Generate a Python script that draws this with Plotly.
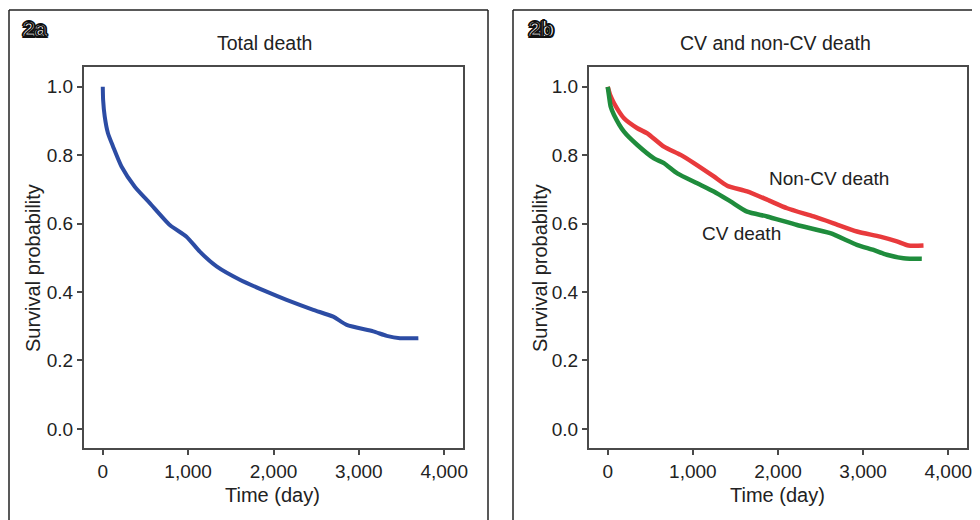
import plotly.graph_objects as go

# ---- data ----
total_t = [0, 4, 23, 60, 121, 219, 375, 551, 785, 981, 1137, 1333, 1606, 1919, 2153,
           2466, 2700, 2857, 3169, 3326, 3482, 3697]
total_s = [1.0, 0.962, 0.913, 0.865, 0.825, 0.767, 0.708, 0.660, 0.596, 0.562, 0.518,
           0.475, 0.436, 0.401, 0.377, 0.348, 0.328, 0.304, 0.285, 0.272, 0.265, 0.265]

noncv_t = [0, 30, 74, 191, 348, 465, 660, 856, 1012, 1246, 1403, 1637, 1872, 2107,
           2419, 2653, 2927, 3200, 3396, 3533, 3709]
noncv_s = [1.0, 0.975, 0.952, 0.908, 0.879, 0.864, 0.825, 0.801, 0.777, 0.738, 0.711,
           0.694, 0.670, 0.645, 0.621, 0.601, 0.577, 0.562, 0.548, 0.536, 0.536]

cv_t = [0, 16, 35, 74, 191, 348, 543, 660, 817, 1051, 1246, 1442, 1637, 1872, 2224,
        2614, 2927, 3122, 3278, 3474, 3689]
cv_s = [1.0, 0.972, 0.942, 0.918, 0.869, 0.830, 0.791, 0.777, 0.747, 0.718, 0.694,
        0.665, 0.635, 0.621, 0.596, 0.572, 0.538, 0.523, 0.509, 0.499, 0.497]

y_ticks = [0.0, 0.2, 0.4, 0.6, 0.8, 1.0]
x_ticks = [0, 1000, 2000, 3000, 4000]

# page has an 8px body margin: figure occupies window pixels 8..980 x 8..520
OFF = 8
W, H = 980 - OFF, 520 - OFF
def px(x):
    return (x - OFF) / W
def py(y):
    return 1 - (y - OFF) / H

FONT = "Liberation Sans, Arial, sans-serif"
BLUE = "#2c4ca4"
RED = "#e83a3c"
GREEN = "#1f8c3c"

fig = go.Figure()
fig.add_trace(go.Scatter(x=total_t, y=total_s, mode="lines",
                         line=dict(color=BLUE, width=4, shape="spline", smoothing=0.6),
                         xaxis="x", yaxis="y", showlegend=False))
fig.add_trace(go.Scatter(x=noncv_t, y=noncv_s, mode="lines",
                         line=dict(color=RED, width=4.5, shape="spline", smoothing=0.6),
                         xaxis="x2", yaxis="y2", showlegend=False))
fig.add_trace(go.Scatter(x=cv_t, y=cv_s, mode="lines",
                         line=dict(color=GREEN, width=4.5, shape="spline", smoothing=0.6),
                         xaxis="x2", yaxis="y2", showlegend=False))

axis_common = dict(showline=True, mirror=True, linecolor="#4a4a4a", linewidth=2,
                   ticks="outside", ticklen=5, tickcolor="#4a4a4a", tickwidth=1.5,
                   showgrid=False, zeroline=False, automargin=False,
                   tickfont=dict(family=FONT, size=19, color="#222"))

xr = [-220, 4220]
yr = [-0.056, 1.058]
ydom = [py(448), py(67)]

fig.update_layout(
    width=W, height=H,
    margin=dict(l=0, r=0, t=0, b=0),
    paper_bgcolor="white", plot_bgcolor="white",
    xaxis=dict(domain=[px(84), px(463)], range=xr, tickvals=x_ticks,
               tickformat=",d", anchor="y", **axis_common),
    yaxis=dict(domain=ydom, range=yr, tickvals=y_ticks, tickformat=".1f",
               anchor="x", **axis_common),
    xaxis2=dict(domain=[px(589), px(967)], range=xr, tickvals=x_ticks,
                tickformat=",d", anchor="y2", **axis_common),
    yaxis2=dict(domain=ydom, range=yr, tickvals=y_ticks, tickformat=".1f",
                anchor="x2", **axis_common),
)

# panel frames
shapes = []
for x0, x1 in [(9, 488), (513, 1000)]:
    shapes.append(dict(type="line", xref="paper", yref="paper",
                       x0=px(x0), x1=px(x0), y0=py(10), y1=py(540),
                       line=dict(color="#222", width=1.5)))
    shapes.append(dict(type="line", xref="paper", yref="paper",
                       x0=px(x0), x1=px(x1), y0=py(10), y1=py(10),
                       line=dict(color="#222", width=1.5)))
shapes.append(dict(type="line", xref="paper", yref="paper",
                   x0=px(488), x1=px(488), y0=py(10), y1=py(540),
                   line=dict(color="#222", width=1.5)))
fig.update_layout(shapes=shapes)

def ann(text, x, y, size=19, rot=0, bold=False, xanchor="center", color="#222",
        shadow="none"):
    return dict(text=text, x=px(x), y=py(y),
                xref="paper", yref="paper", showarrow=False, textangle=rot,
                xanchor=xanchor, yanchor="middle",
                font=dict(family=FONT, size=size, color=color,
                          weight="bold" if bold else "normal", shadow=shadow))

OUTLINE = ("2px 0 0 #111, -2px 0 0 #111, 0 2px 0 #111, 0 -2px 0 #111, "
           "1.5px 1.5px 0 #111, -1.5px -1.5px 0 #111, 1.5px -1.5px 0 #111, -1.5px 1.5px 0 #111")

annotations = []
for lbl, x in [("2a", 21), ("2b", 527)]:
    annotations.append(ann(lbl, x, 28, size=21, bold=True, xanchor="left",
                           color="#111", shadow=OUTLINE))
    annotations.append(ann(lbl, x, 28, size=21, bold=True, xanchor="left",
                           color="white"))
    annotations.append(ann(lbl, x, 28, size=21, bold=False, xanchor="left",
                           color="#111"))

annotations += [
    ann("Total death", 264, 43, size=19.5),
    ann("CV and non-CV death", 775, 43, size=19.5),
    ann("Survival probability", 33, 268, size=20, rot=-90),
    ann("Survival probability", 540, 268, size=20, rot=-90),
    ann("Time (day)", 272, 495, size=20),
    ann("Time (day)", 777, 495, size=20),
    ann("Non-CV death", 829, 178, size=19),
    ann("CV death", 741, 233, size=19),
]
fig.update_layout(annotations=annotations)

fig.write_html("out.html")
